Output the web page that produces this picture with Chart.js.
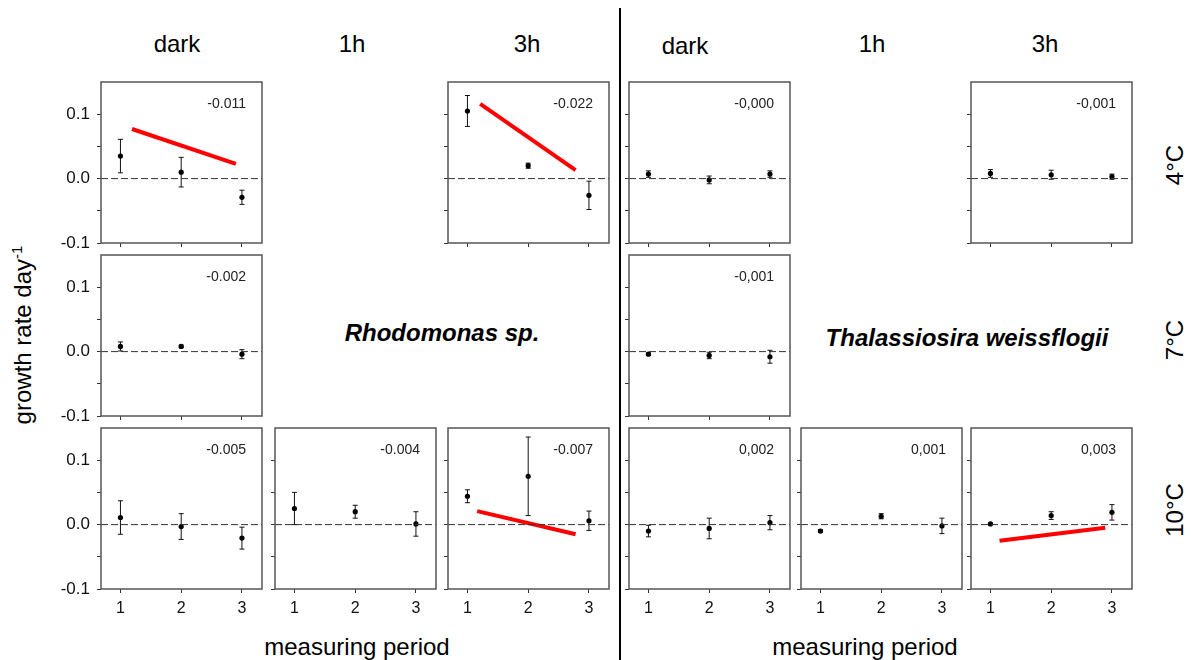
<!DOCTYPE html>
<html>
<head>
<meta charset="utf-8">
<script src="https://cdn.jsdelivr.net/npm/chart.js@4/dist/chart.umd.min.js"></script>
<style>
  body { margin: 0; background: #fff; font-family: 'Liberation Sans', Arial, sans-serif; }
  #fig { position: relative; width: 1191px; height: 660px; overflow: hidden; }
  .panel { position: absolute; }
  .lbl { position: absolute; white-space: nowrap; color: #000; transform: translate(-50%, -50%); font-size: 24px; }
  .rot { transform: translate(-50%, -50%) rotate(-90deg); }
  .species { font-weight: bold; font-style: italic; }
  #divider { position: absolute; left: 619px; top: 8px; width: 1.5px; height: 652px; background: #000; }
</style>
</head>
<body>
<div id="fig">
  <div id="divider"></div>

  <div class="lbl" style="left:177px; top:44px;">dark</div>
  <div class="lbl" style="left:352px; top:44px;">1h</div>
  <div class="lbl" style="left:527px; top:44px;">3h</div>
  <div class="lbl" style="left:685px; top:46px;">dark</div>
  <div class="lbl" style="left:872px; top:44px;">1h</div>
  <div class="lbl" style="left:1045px; top:44px;">3h</div>

  <div class="lbl rot" style="left:1175px; top:165px;">4°C</div>
  <div class="lbl rot" style="left:1175px; top:340px;">7°C</div>
  <div class="lbl rot" style="left:1175px; top:510px;">10°C</div>

  <div class="lbl rot" style="left:22px; top:335px;">growth rate day<sup style="font-size:15px">-1</sup></div>

  <div class="lbl" style="left:357px; top:647px;">measuring period</div>
  <div class="lbl" style="left:865px; top:647px;">measuring period</div>

  <div class="lbl species" style="left:442px; top:333px;">Rhodomonas sp.</div>
  <div class="lbl species" style="left:967px; top:338px;">Thalassiosira weissflogii</div>
</div>

<script>
// measuring periods on the x axis
const periods = [1, 2, 3];

// Rhodomonas sp. - mean growth rate and error per period
const rhoDark4 = [0.035, 0.010, -0.029];
const rhoDark4Err = [0.026, 0.023, 0.011];
const rho3h4 = [0.105, 0.020, -0.026];
const rho3h4Err = [0.024, 0.004, 0.022];
const rhoDark7 = [0.008, 0.008, -0.004];
const rhoDark7Err = [0.007, 0.002, 0.007];
const rhoDark10 = [0.011, -0.003, -0.021];
const rhoDark10Err = [0.026, 0.020, 0.017];
const rho1h10 = [0.025, 0.020, 0.001];
const rho1h10Err = [0.025, 0.010, 0.019];
const rho3h10 = [0.044, 0.075, 0.006];
const rho3h10Err = [0.010, 0.061, 0.015];

// Thalassiosira weissflogii
const thaDark4 = [0.007, -0.002, 0.007];
const thaDark4Err = [0.005, 0.006, 0.005];
const tha3h4 = [0.008, 0.006, 0.003];
const tha3h4Err = [0.006, 0.007, 0.004];
const thaDark7 = [-0.004, -0.006, -0.008];
const thaDark7Err = [0.002, 0.005, 0.010];
const thaDark10 = [-0.010, -0.006, 0.003];
const thaDark10Err = [0.009, 0.016, 0.011];
const tha1h10 = [-0.010, 0.013, -0.002];
const tha1h10Err = [0.002, 0.004, 0.012];
const tha3h10 = [0.001, 0.014, 0.019];
const tha3h10Err = [0.001, 0.006, 0.012];

// significant regression lines (start / end)
const rhoDark4TrendX = [1.19, 2.90];
const rhoDark4TrendY = [0.077, 0.023];
const rho3h4TrendX = [1.21, 2.78];
const rho3h4TrendY = [0.116, 0.013];
const rho3h10TrendX = [1.16, 2.78];
const rho3h10TrendY = [0.021, -0.015];
const tha3h10TrendX = [1.15, 2.89];
const tha3h10TrendY = [-0.025, -0.005];

// slopes printed in each panel
const slopeLabels = {
  rhoDark4: '-0.011', rho3h4: '-0.022', rhoDark7: '-0.002',
  rhoDark10: '-0.005', rho1h10: '-0.004', rho3h10: '-0.007',
  thaDark4: '-0,000', tha3h4: '-0,001', thaDark7: '-0,001',
  thaDark10: '0,002', tha1h10: '0,001', tha3h10: '0,003'
};

const yTicks = [-0.1, -0.05, 0, 0.05, 0.1, 0.15];

// plot area grid
const colLeft = [101, 275, 448, 629, 801, 971];
const rowTop = [82, 255, 428];
const plotSize = 161;
const padL = 40, padT = 5, padR = 5, padB = 32;
const FONT = "'Liberation Sans', Arial, sans-serif";

const panels = [
  { key: 'rhoDark4', col: 0, row: 0, mean: rhoDark4, err: rhoDark4Err, tx: rhoDark4TrendX, ty: rhoDark4TrendY },
  { key: 'rho3h4', col: 2, row: 0, mean: rho3h4, err: rho3h4Err, tx: rho3h4TrendX, ty: rho3h4TrendY },
  { key: 'rhoDark7', col: 0, row: 1, mean: rhoDark7, err: rhoDark7Err },
  { key: 'rhoDark10', col: 0, row: 2, mean: rhoDark10, err: rhoDark10Err },
  { key: 'rho1h10', col: 1, row: 2, mean: rho1h10, err: rho1h10Err },
  { key: 'rho3h10', col: 2, row: 2, mean: rho3h10, err: rho3h10Err, tx: rho3h10TrendX, ty: rho3h10TrendY },
  { key: 'thaDark4', col: 3, row: 0, mean: thaDark4, err: thaDark4Err },
  { key: 'tha3h4', col: 5, row: 0, mean: tha3h4, err: tha3h4Err },
  { key: 'thaDark7', col: 3, row: 1, mean: thaDark7, err: thaDark7Err },
  { key: 'thaDark10', col: 3, row: 2, mean: thaDark10, err: thaDark10Err },
  { key: 'tha1h10', col: 4, row: 2, mean: tha1h10, err: tha1h10Err },
  { key: 'tha3h10', col: 5, row: 2, mean: tha3h10, err: tha3h10Err, tx: tha3h10TrendX, ty: tha3h10TrendY }
];

// error bars, frame and slope label
const panelDecor = {
  id: 'panelDecor',
  beforeDatasetsDraw(chart) {
    const ctx = chart.ctx, xs = chart.scales.x, ys = chart.scales.y;
    chart.data.datasets.forEach(ds => {
      if (!ds.errors) return;
      ctx.save();
      ctx.strokeStyle = '#111';
      ctx.lineWidth = 1;
      ds.data.forEach((p, i) => {
        const e = ds.errors[i];
        const x = xs.getPixelForValue(p.x);
        const y1 = ys.getPixelForValue(p.y + e);
        const y2 = ys.getPixelForValue(p.y - e);
        ctx.beginPath();
        ctx.moveTo(x, y1); ctx.lineTo(x, y2);
        ctx.moveTo(x - 2.5, y1); ctx.lineTo(x + 2.5, y1);
        ctx.moveTo(x - 2.5, y2); ctx.lineTo(x + 2.5, y2);
        ctx.stroke();
      });
      ctx.restore();
    });
  },
  afterDraw(chart) {
    const ctx = chart.ctx, a = chart.chartArea;
    ctx.save();
    ctx.strokeStyle = '#555';
    ctx.lineWidth = 1.5;
    ctx.strokeRect(a.left, a.top, a.right - a.left, a.bottom - a.top);
    ctx.fillStyle = '#222';
    ctx.font = '14px ' + FONT;
    ctx.textAlign = 'right';
    ctx.textBaseline = 'middle';
    ctx.fillText(chart.options.plugins.panelDecor.label, a.right - 16, a.top + 22);
    ctx.restore();
  }
};

const fig = document.getElementById('fig');

panels.forEach(p => {
  const canvas = document.createElement('canvas');
  const w = padL + plotSize + padR, h = padT + plotSize + padB;
  canvas.width = w; canvas.height = h;
  canvas.className = 'panel';
  canvas.style.left = (colLeft[p.col] - padL) + 'px';
  canvas.style.top = (rowTop[p.row] - padT) + 'px';
  fig.appendChild(canvas);

  const showY = p.col === 0;
  const showX = p.row === 2;

  const datasets = [
    {
      data: [{ x: 0.68, y: 0 }, { x: 3.33, y: 0 }],
      showLine: true, borderColor: '#333', borderWidth: 1, borderDash: [7, 3],
      pointRadius: 0
    }
  ];
  if (p.tx) {
    datasets.push({
      data: p.tx.map((x, i) => ({ x, y: p.ty[i] })),
      showLine: true, borderColor: '#ff0000', borderWidth: 4, pointRadius: 0,
      borderCapStyle: 'butt'
    });
  }
  datasets.push({
    data: periods.map((x, i) => ({ x, y: p.mean[i] })),
    errors: p.err,
    showLine: false, pointRadius: 2.6, pointBackgroundColor: '#000', pointBorderWidth: 0
  });

  new Chart(canvas.getContext('2d'), {
    type: 'scatter',
    data: { datasets },
    plugins: [panelDecor],
    options: {
      responsive: false,
      animation: false,
      layout: { padding: { left: 0, top: padT, right: padR, bottom: 0 } },
      plugins: {
        legend: { display: false },
        tooltip: { enabled: false },
        panelDecor: { label: slopeLabels[p.key] }
      },
      scales: {
        x: {
          type: 'linear', min: 0.68, max: 3.33,
          afterBuildTicks: s => { s.ticks = periods.map(v => ({ value: v })); },
          afterFit: s => { s.height = padB; s.paddingLeft = 0; s.paddingRight = 0; },
          border: { display: false },
          grid: { drawOnChartArea: false, tickLength: 4, color: '#333' },
          ticks: {
            padding: 6, color: '#111', font: { size: 16, family: FONT },
            callback: v => showX ? String(v) : ''
          }
        },
        y: {
          min: -0.1, max: 0.15,
          afterBuildTicks: s => { s.ticks = yTicks.map(v => ({ value: v })); },
          afterFit: s => { s.width = padL; s.paddingTop = 0; s.paddingBottom = 0; },
          border: { display: false },
          grid: {
            drawOnChartArea: false, tickLength: 4,
            color: c => (c.tick && c.tick.value > 0.12) ? 'rgba(0,0,0,0)' : '#333'
          },
          ticks: {
            padding: 7, color: '#111', font: { size: 17, family: FONT },
            callback: v => {
              if (!showY) return '';
              if (Math.abs(v) < 1e-9) return '0.0';
              if (Math.abs(Math.abs(v) - 0.1) < 1e-9) return v.toFixed(1);
              return '';
            }
          }
        }
      }
    }
  });
});
</script>
</body>
</html>
